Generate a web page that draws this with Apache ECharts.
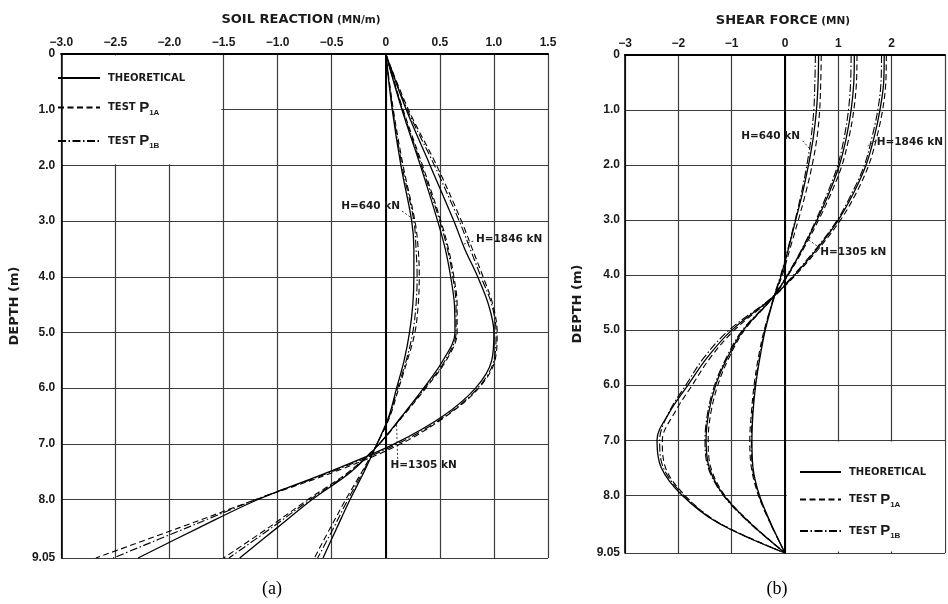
<!DOCTYPE html>
<html>
<head>
<meta charset="utf-8">
<script src="https://cdn.jsdelivr.net/npm/echarts@6/dist/echarts.min.js"></script>
<style>
html,body{margin:0;padding:0;background:#fff;}
#chart{width:948px;height:604px;}
</style>
</head>
<body>
<div id="chart"></div>
<script>
// ---------------- data ----------------
const seriesNames = ['THEORETICAL', 'TEST P1A', 'TEST P1B'];

// Panel (a): soil reaction (MN/m) vs depth (m)
const reactionTicks = [-3.0, -2.5, -2.0, -1.5, -1.0, -0.5, 0, 0.5, 1.0, 1.5];
const reactionTickLabels = ['−3.0', '−2.5', '−2.0', '−1.5', '−1.0', '−0.5', '0', '0.5', '1.0', '1.5'];
const depthTicks = [0, 1, 2, 3, 4, 5, 6, 7, 8, 9.05];
const depthTickLabels = ['0', '1.0', '2.0', '3.0', '4.0', '5.0', '6.0', '7.0', '8.0', '9.05'];

const depthA = [0, 1, 2, 3, 3.5, 4, 4.5, 5, 5.5, 6, 6.5, 7, 7.5, 8, 8.5, 9.05];
const reaction640Theory = [0, 0.06, 0.14, 0.24, 0.26, 0.26, 0.25, 0.22, 0.17, 0.10, 0.03, -0.08, -0.20, -0.33, -0.45, -0.58];
const reaction640P1A    = [0, 0.07, 0.16, 0.27, 0.30, 0.31, 0.30, 0.27, 0.20, 0.12, 0.04, -0.08, -0.22, -0.37, -0.51, -0.66];
const reaction640P1B    = [0, 0.065, 0.15, 0.26, 0.28, 0.29, 0.28, 0.25, 0.19, 0.11, 0.035, -0.08, -0.21, -0.35, -0.48, -0.63];
const reaction1305Theory = [0, 0.15, 0.32, 0.48, 0.55, 0.60, 0.635, 0.64, 0.53, 0.35, 0.15, -0.06, -0.32, -0.68, -1.00, -1.35];
const reaction1305P1A    = [0, 0.16, 0.34, 0.51, 0.58, 0.63, 0.66, 0.66, 0.56, 0.37, 0.16, -0.06, -0.34, -0.72, -1.08, -1.50];
const reaction1305P1B    = [0, 0.155, 0.33, 0.50, 0.57, 0.62, 0.65, 0.65, 0.55, 0.36, 0.155, -0.06, -0.33, -0.70, -1.05, -1.45];
const reaction1846Theory = [0, 0.19, 0.41, 0.63, 0.73, 0.85, 0.95, 1.00, 0.98, 0.83, 0.53, 0.08, -0.52, -1.18, -1.72, -2.29];
const reaction1846P1A    = [0, 0.21, 0.47, 0.70, 0.80, 0.90, 0.99, 1.03, 1.01, 0.86, 0.56, 0.14, -0.47, -1.20, -1.90, -2.68];
const reaction1846P1B    = [0, 0.20, 0.45, 0.68, 0.78, 0.88, 0.98, 1.02, 1.00, 0.85, 0.55, 0.11, -0.50, -1.20, -1.83, -2.52];

// Panel (b): shear force (MN) vs depth (m)
const shearTicks = [-3, -2, -1, 0, 1, 2, 3];
const shearTickLabels = ['−3', '−2', '−1', '0', '1', '2', ''];

const depthB = [0, 0.5, 1, 1.5, 2, 2.5, 3, 3.5, 4, 4.42, 5, 5.5, 6, 6.5, 7, 7.5, 8, 8.5, 9.05];
const shear640Theory = [0.63, 0.62, 0.59, 0.53, 0.44, 0.33, 0.20, 0.07, -0.07, -0.21, -0.37, -0.47, -0.55, -0.60, -0.62, -0.60, -0.48, -0.27, 0];
const shear640P1A    = [0.68, 0.67, 0.65, 0.60, 0.51, 0.39, 0.25, 0.10, -0.05, -0.21, -0.39, -0.50, -0.58, -0.63, -0.66, -0.63, -0.50, -0.28, 0];
const shear640P1B    = [0.57, 0.56, 0.54, 0.49, 0.41, 0.31, 0.19, 0.06, -0.08, -0.22, -0.38, -0.48, -0.56, -0.61, -0.63, -0.61, -0.49, -0.28, 0];
const shear1305Theory = [1.30, 1.29, 1.24, 1.15, 1.02, 0.83, 0.60, 0.34, 0.05, -0.24, -0.78, -1.08, -1.30, -1.43, -1.48, -1.42, -1.15, -0.66, 0];
const shear1305P1A    = [1.35, 1.34, 1.29, 1.20, 1.07, 0.87, 0.63, 0.36, 0.06, -0.24, -0.76, -1.05, -1.26, -1.39, -1.44, -1.39, -1.13, -0.65, 0];
const shear1305P1B    = [1.24, 1.23, 1.19, 1.11, 0.99, 0.80, 0.58, 0.33, 0.04, -0.25, -0.80, -1.10, -1.32, -1.45, -1.50, -1.44, -1.16, -0.67, 0];
const shear1846Theory = [1.86, 1.85, 1.78, 1.67, 1.52, 1.29, 1.00, 0.62, 0.18, -0.25, -1.00, -1.46, -1.82, -2.17, -2.40, -2.32, -1.93, -1.26, 0];
const shear1846P1A    = [1.90, 1.89, 1.83, 1.72, 1.57, 1.34, 1.04, 0.65, 0.20, -0.24, -0.95, -1.40, -1.74, -2.07, -2.30, -2.24, -1.88, -1.24, 0];
const shear1846P1B    = [1.81, 1.80, 1.74, 1.63, 1.49, 1.26, 0.98, 0.60, 0.16, -0.26, -1.05, -1.52, -1.86, -2.18, -2.35, -2.28, -1.90, -1.25, 0];

// Load-level annotations (data coordinates: [value, depth])
const annotA = [
  {name: 'H=640 kN',  at: [-0.14, 2.73], from: [0.15, 2.82], to: [0.25, 2.96]},
  {name: 'H=1846 kN', at: [1.14, 3.33],  from: [0.81, 3.36], to: [0.71, 3.42]},
  {name: 'H=1305 kN', at: [0.35, 7.38],  from: [0.10, 6.66], to: [0.11, 7.27]}
];
const annotB = [
  {name: 'H=640 kN',  at: [-0.27, 1.47], from: [0.33, 1.56], to: [0.47, 1.71]},
  {name: 'H=1846 kN', at: [2.34, 1.58],  from: [1.70, 1.56], to: [1.55, 1.65]},
  {name: 'H=1305 kN', at: [1.28, 3.58],  from: [0.66, 3.51], to: [0.44, 3.36]}
];

// ---------------- styling ----------------
const INK = '#1a1a1a';
const GRIDC = '#3c3c3c';
const lineStyles = {
  'THEORETICAL': {type: 'solid', width: 1.3},
  'TEST P1A': {type: [6, 3.5], width: 1.1},
  'TEST P1B': {type: [8, 2.5, 1.5, 2.5], width: 1.1}
};
const labelFont = {fontFamily: 'Liberation Sans', fontWeight: 'bold', fontSize: 12, color: INK};
const annoLabel = {fontFamily: 'DejaVu Sans', fontWeight: 'bold', fontSize: 10.5, color: INK};

function makeSeries(name, depth, vals, idx, extra) {
  const s = {
    type: 'line', name: name, xAxisIndex: idx, yAxisIndex: idx,
    data: vals.map((v, i) => [v, depth[i]]),
    symbol: 'none', smooth: 0.35, silent: true,
    lineStyle: Object.assign({color: '#000'}, lineStyles[name]),
    itemStyle: {color: '#000'},
    z: 3
  };
  return Object.assign(s, extra || {});
}

function annotationMarkers(list, idx, zeroDepthMax, blank) {
  return {
    markPoint: {
      silent: true, symbol: 'circle', symbolSize: 0, animation: false,
      label: Object.assign({show: true, position: 'inside', formatter: '{b}'}, annoLabel),
      data: list.map(a => ({name: a.name, coord: a.at}))
    },
    markLine: {
      silent: true, symbol: 'none', animation: false,
      label: {show: false},
      data: [
        [{coord: [0, 0], lineStyle: {color: '#000', width: 2, type: 'solid'}}, {coord: [0, zeroDepthMax]}]
      ].concat(list.map(a => [
        {coord: a.from, lineStyle: {color: '#222', width: 0.9, type: [2, 2]}},
        {coord: a.to}
      ]))
    },
    markArea: {
      silent: true, animation: false,
      itemStyle: {color: '#ffffff'},
      data: [[{coord: blank[0]}, {coord: blank[1]}]]
    }
  };
}

const series = [];
const groupsA = [
  [reaction640Theory, reaction640P1A, reaction640P1B],
  [reaction1305Theory, reaction1305P1A, reaction1305P1B],
  [reaction1846Theory, reaction1846P1A, reaction1846P1B]
];
const groupsB = [
  [shear640Theory, shear640P1A, shear640P1B],
  [shear1305Theory, shear1305P1A, shear1305P1B],
  [shear1846Theory, shear1846P1A, shear1846P1B]
];
groupsA.forEach((g, gi) => g.forEach((vals, k) => {
  const extra = (gi === 0 && k === 0)
    ? annotationMarkers(annotA, 0, 9.05, [[-2.985, 0.025], [-1.52, 1.98]]) : null;
  series.push(makeSeries(seriesNames[k], depthA, vals, 0, extra));
}));
groupsB.forEach((g, gi) => g.forEach((vals, k) => {
  const extra = (gi === 0 && k === 0)
    ? annotationMarkers(annotB, 1, 9.05, [[0.035, 7.025], [3, 9.025]]) : null;
  series.push(makeSeries(seriesNames[k], depthB, vals, 1, extra));
}));

function xAxisCfg(idx, min, max, ticks, labels) {
  return {
    type: 'value', gridIndex: idx, position: 'top', min: min, max: max,
    axisLine: {show: true, onZero: false, lineStyle: {color: '#000', width: 2.2}},
    axisTick: {show: false, customValues: ticks},
    axisLabel: Object.assign({
      customValues: ticks, margin: 5,
      formatter: v => { const i = ticks.findIndex(t => Math.abs(t - v) < 1e-6); return i >= 0 ? labels[i] : ''; }
    }, labelFont),
    splitLine: {show: true, lineStyle: {color: GRIDC, width: 1.2}}
  };
}
function yAxisCfg(idx, gap, margin) {
  return {
    type: 'value', gridIndex: idx, inverse: true, min: 0, max: 9.05,
    name: 'DEPTH (m)', nameLocation: 'middle', nameRotate: 90, nameGap: gap,
    nameTextStyle: {fontFamily: 'DejaVu Sans', fontWeight: 'bold', fontSize: 13, color: INK},
    axisLine: {show: true, onZero: false, lineStyle: {color: '#000', width: 1.6}},
    axisTick: {show: false, customValues: depthTicks},
    axisLabel: Object.assign({
      customValues: depthTicks, margin: margin,
      formatter: v => { const i = depthTicks.findIndex(t => Math.abs(t - v) < 1e-6); return i >= 0 ? depthTickLabels[i] : ''; }
    }, labelFont),
    splitLine: {show: true, lineStyle: {color: GRIDC, width: 1.2}}
  };
}

const legendRich = {
  t: {fontFamily: 'DejaVu Sans', fontWeight: 'bold', fontSize: 10, lineHeight: 18, verticalAlign: 'middle', color: INK, padding: [0, 0, 0, 3]},
  p: {fontFamily: 'Liberation Sans', fontWeight: 'bold', fontSize: 15, lineHeight: 18, verticalAlign: 'middle', color: INK},
  s: {fontFamily: 'Liberation Sans', fontWeight: 'bold', fontSize: 8, lineHeight: 8, verticalAlign: 'bottom', color: INK}
};
function legendFormatter(name) {
  if (name === 'THEORETICAL') return '{t|THEORETICAL}';
  return '{t|TEST }{p|P}{s|' + name.slice(-2) + '}';
}
function legendCfg(left, top, itemWidth, gap) {
  return {
    data: seriesNames, orient: 'vertical', left: left, top: top, padding: 0,
    itemWidth: itemWidth, itemHeight: 10, itemGap: gap, selectedMode: false,
    itemStyle: {color: 'rgba(0,0,0,0)', borderColor: 'rgba(0,0,0,0)', borderWidth: 0, opacity: 0},
    formatter: legendFormatter, textStyle: {rich: legendRich},
    z: 10
  };
}

const option = {
  animation: false,
  backgroundColor: '#ffffff',
  grid: [
    {left: 49, top: 54, width: 499, height: 504},
    {left: 625, top: 55, width: 329, height: 498}
  ],
  xAxis: [
    xAxisCfg(0, -3, 1.5, reactionTicks, reactionTickLabels),
    xAxisCfg(1, -3, 3, shearTicks, shearTickLabels)
  ],
  yAxis: [yAxisCfg(0, 27, 6), yAxisCfg(1, 41, 5)],
  legend: [legendCfg(57, 73, 42, 17), legendCfg(799, 467, 41, 15)],
  graphic: [
    {type: 'text', x: 301, y: 20, z: 10, style: {
      text: '{a|SOIL REACTION} {b|(MN/m)}', align: 'center', verticalAlign: 'middle',
      textAlign: 'center', textVerticalAlign: 'middle',
      rich: {a: {fontFamily: 'DejaVu Sans', fontWeight: 'bold', fontSize: 13, fill: INK},
             b: {fontFamily: 'DejaVu Sans', fontWeight: 'bold', fontSize: 10.5, fill: INK}}}},
    {type: 'text', x: 783, y: 21, z: 10, style: {
      text: '{a|SHEAR FORCE} {b|(MN)}', align: 'center', verticalAlign: 'middle',
      textAlign: 'center', textVerticalAlign: 'middle',
      rich: {a: {fontFamily: 'DejaVu Sans', fontWeight: 'bold', fontSize: 13, fill: INK},
             b: {fontFamily: 'DejaVu Sans', fontWeight: 'bold', fontSize: 10.5, fill: INK}}}},
    {type: 'text', x: 272, y: 589, z: 10, style: {
      text: '(a)', font: '18px "Liberation Serif"', fill: '#000',
      align: 'center', verticalAlign: 'middle', textAlign: 'center', textVerticalAlign: 'middle'}},
    {type: 'text', x: 777, y: 589, z: 10, style: {
      text: '(b)', font: '18px "Liberation Serif"', fill: '#000',
      align: 'center', verticalAlign: 'middle', textAlign: 'center', textVerticalAlign: 'middle'}}
  ],
  series: series
};

const chart = echarts.init(document.getElementById('chart'), null, {renderer: 'canvas', width: 948, height: 604});
chart.setOption(option);
</script>
</body>
</html>
